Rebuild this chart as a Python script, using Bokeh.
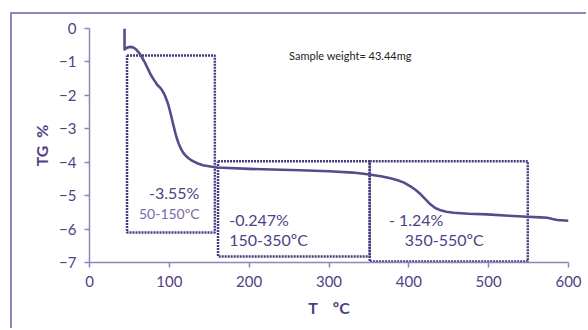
from bokeh.plotting import figure
from bokeh.embed import file_html
from bokeh.resources import INLINE
from bokeh.models import FixedTicker
from bokeh.core.properties import value

# data
temp = [43.9, 43.9, 46.0, 48.5, 51.4, 55.0, 58.5, 61.8, 65.0, 68.5, 72.5, 76.4, 80.5, 85.0,
        88.5, 91.0, 94.0, 97.0, 99.4, 102.0, 104.0, 105.7, 108.0, 110.0, 112.0, 115.0,
        117.5, 120.3, 124.0, 128.0, 131.5, 135.0, 142.0, 151.6, 160.0, 200.0, 264.0, 300.0,
        330.0, 348.0, 365.0, 377.0, 386.0, 394.0, 402.0, 409.0, 414.8, 421.0, 427.0, 433.0,
        440.0, 447.0, 456.0, 475.0, 498.0, 525.0, 548.5, 565.0, 573.5, 580.0, 586.0, 600.0]
tg = [0.0, -0.63, -0.59, -0.56, -0.55, -0.57, -0.63, -0.72, -0.83, -0.98, -1.17, -1.37,
      -1.53, -1.69, -1.77, -1.85, -1.98, -2.16, -2.34, -2.58, -2.78, -2.95, -3.17, -3.33,
      -3.46, -3.62, -3.72, -3.80, -3.88, -3.95, -3.99, -4.03, -4.09, -4.13, -4.16, -4.20,
      -4.24, -4.27, -4.31, -4.36, -4.42, -4.48, -4.54, -4.61, -4.72, -4.84, -4.96, -5.11,
      -5.26, -5.37, -5.44, -5.48, -5.51, -5.54, -5.56, -5.60, -5.63, -5.65, -5.66, -5.70,
      -5.73, -5.75]

box_left = [47, 161, 351]
box_right = [157, 351, 549]
box_top = [-0.81, -3.97, -3.97]
box_bottom = [-6.1, -6.82, -6.97]

loss_labels = ["-3.55%", "-0.247%", "- 1.24%"]
range_labels = ["50-150ºC", "150-350ºC", "350-550ºC"]
x_ticks = [0, 100, 200, 300, 400, 500, 600]
y_ticks = [0, -1, -2, -3, -4, -5, -6, -7]

purple = "#4f3f85"
axis_col = "#9184b8"
font = "Lato"
nb = "\u00a0"

p = figure(width=576, height=316, x_range=(0, 600), y_range=(-7, 0),
           output_backend="svg", toolbar_location=None,
           min_border_left=77, min_border_right=20, min_border_top=14, min_border_bottom=68)
p.styles = {"border-left": f"2px solid {axis_col}", "border-top": f"2px solid {axis_col}",
            "margin-left": "10px", "margin-top": "12px"}
p.outline_line_color = None
p.grid.visible = False
p.background_fill_color = "white"

for ax in (p.xaxis[0], p.yaxis[0]):
    ax.axis_line_color = axis_col
    ax.axis_line_width = 1.5
    ax.major_tick_line_color = axis_col
    ax.major_tick_line_width = 1.5
    ax.major_tick_in = 0
    ax.major_tick_out = 5
    ax.minor_tick_line_color = None
    ax.major_label_text_color = purple
    ax.major_label_text_font = font
    ax.major_label_text_font_size = "15px"
    ax.axis_label_text_color = purple
    ax.axis_label_text_font = font
    ax.axis_label_text_font_style = "bold"
    ax.axis_label_text_font_size = "16px"

p.xaxis.ticker = FixedTicker(ticks=x_ticks)
p.yaxis.ticker = FixedTicker(ticks=y_ticks)
p.xaxis.axis_label = "T" + nb * 4 + "ºC"
p.yaxis.axis_label = "TG" + nb * 2 + "%"
p.xaxis.major_label_standoff = 8
p.yaxis.major_label_standoff = 8
p.xaxis.axis_label_standoff = 8
p.yaxis.axis_label_standoff = 5

# dotted boxes
for l, r, t, b in zip(box_left, box_right, box_top, box_bottom):
    p.line([l, r, r, l, l], [t, t, b, b, t], line_color="#4a3a80", line_width=2.5,
           line_dash="2 1")

# TG curve
p.line(temp, tg, line_color="#5a4a8c", line_width=2.6, line_join="round")

# annotations
p.text(x=[106], y=[-4.92], text=[loss_labels[0]], text_align="center", text_baseline="middle",
       text_color=purple, text_font=value(font), text_font_size="16px")
p.text(x=[100], y=[-5.52], text=[range_labels[0]], text_align="center", text_baseline="middle",
       text_color="#7a6aa6", text_font=value(font), text_font_size="14px")
p.text(x=[175, 175], y=[-5.7, -6.3], text=[loss_labels[1], range_labels[1]], text_align="left",
       text_baseline="middle", text_color=purple, text_font=value(font), text_font_size="16px")
p.text(x=[375, 395], y=[-5.7, -6.3], text=[loss_labels[2], range_labels[2]], text_align="left",
       text_baseline="middle", text_color=purple, text_font=value(font), text_font_size="16px")
p.text(x=[250], y=[-0.81], text=["Sample weight= 43.44mg"], text_align="left",
       text_baseline="middle", text_color="#222222", text_font=value(font), text_font_size="11px")

open("out.html", "w").write(file_html(p, INLINE))
